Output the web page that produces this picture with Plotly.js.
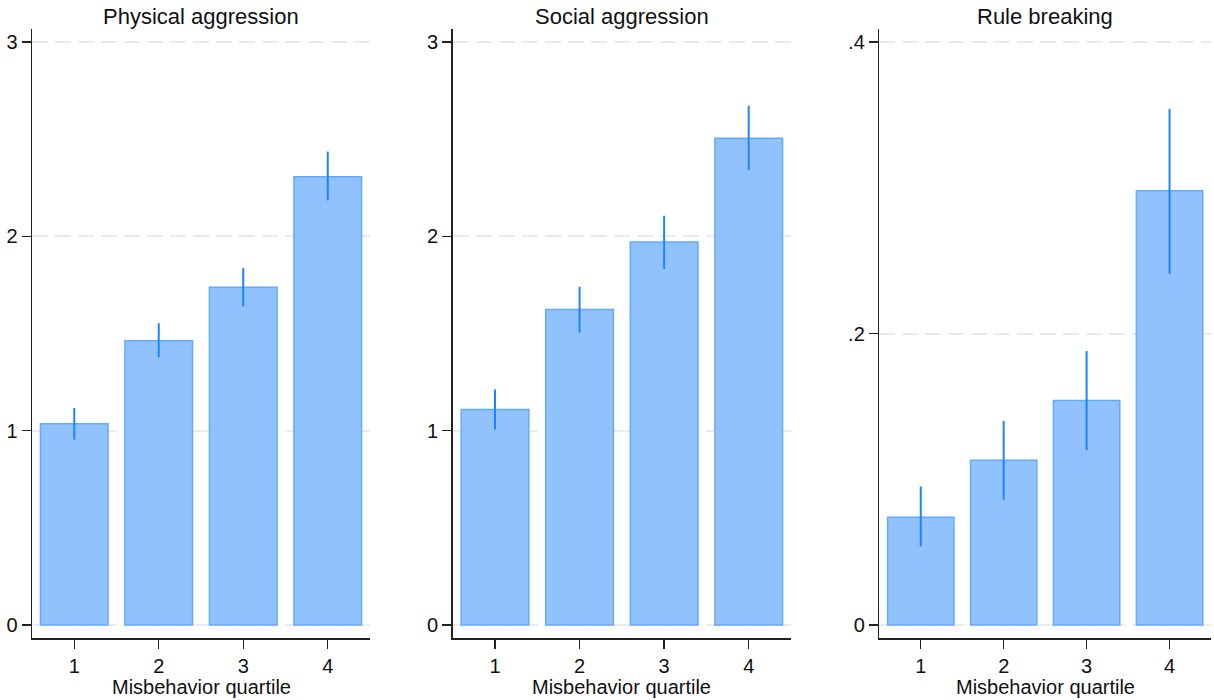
<!DOCTYPE html>
<html>
<head>
<meta charset="utf-8">
<script src="https://cdn.plot.ly/plotly-3.0.1.min.js"></script>
<style>html,body{margin:0;padding:0;background:#fff;}#chart{width:1214px;height:700px;}</style>
</head>
<body>
<div id="chart"></div>
<script>
// Data
const quartiles = [1, 2, 3, 4];
const panelTitles = ["Physical aggression", "Social aggression", "Rule breaking"];

const physMean  = [1.036, 1.463, 1.738, 2.307];
const physLower = [0.954, 1.378, 1.640, 2.185];
const physUpper = [1.117, 1.553, 1.837, 2.436];

const socMean   = [1.109, 1.623, 1.971, 2.505];
const socLower  = [1.006, 1.505, 1.832, 2.341];
const socUpper  = [1.212, 1.741, 2.106, 2.672];

const ruleMean  = [0.074, 0.113, 0.154, 0.298];
const ruleLower = [0.054, 0.086, 0.120, 0.241];
const ruleUpper = [0.095, 0.140, 0.188, 0.354];

const yTickVals12 = [0, 1, 2, 3];
const yTickText12 = ["0", "1", "2", "3"];
const yTickVals3 = [0, 0.2, 0.4];
const yTickText3 = ["0", ".2", ".4"];
const xTitle = "Misbehavior quartile";

// Styling
const FONT = "Liberation Sans, Arial, Helvetica, sans-serif";
const fillCol = "rgb(145,194,253)";
const lineCol = "rgb(100,170,252)";
const errCol = "#1a85ff";

function barTrace(mean, lower, upper, xa, ya) {
  return {
    type: "bar",
    x: quartiles,
    y: mean,
    xaxis: xa,
    yaxis: ya,
    width: 0.8,
    marker: { color: fillCol, line: { color: lineCol, width: 1.5 } },
    error_y: {
      type: "data",
      symmetric: false,
      array: upper.map((u, i) => u - mean[i]),
      arrayminus: mean.map((m, i) => m - lower[i]),
      color: errCol,
      thickness: 2,
      width: 0
    },
    hoverinfo: "skip",
    showlegend: false
  };
}

const W = 1214, H = 700;
const xDomPx = [[32, 370], [452.7, 791], [879.3, 1211]];
const yDom = [(H - 638) / H, (H - 29) / H];

function xaxis(i) {
  return {
    domain: [xDomPx[i][0] / W, xDomPx[i][1] / W],
    anchor: i === 0 ? "y" : "y" + (i + 1),
    range: [0.5, 4.5],
    tickvals: quartiles,
    ticktext: quartiles.map(String),
    ticks: "outside",
    ticklen: 9,
    tickwidth: 1.3,
    tickcolor: "#222",
    showline: true,
    linecolor: "#222",
    linewidth: 1.5,
    showgrid: false,
    zeroline: false,
    tickfont: { family: FONT, size: 20, color: "#111" },
    fixedrange: true
  };
}

function yaxis(i, range, vals, text) {
  return {
    domain: yDom,
    anchor: i === 0 ? "x" : "x" + (i + 1),
    range: range,
    tickvals: vals,
    ticktext: text,
    ticks: "outside",
    ticklen: 9,
    tickwidth: 1.3,
    tickcolor: "#222",
    showline: true,
    linecolor: "#222",
    linewidth: 1.5,
    showgrid: true,
    gridcolor: "#ebebeb",
    gridwidth: 2,
    griddash: "16px,7px",
    zeroline: false,
    tickfont: { family: FONT, size: 20, color: "#111" },
    fixedrange: true
  };
}

const data = [
  barTrace(physMean, physLower, physUpper, "x", "y"),
  barTrace(socMean, socLower, socUpper, "x2", "y2"),
  barTrace(ruleMean, ruleLower, ruleUpper, "x3", "y3")
];

const r12 = [-13 / 194.33, 3 + 13 / 194.33];
const r3 = [-13 / 1457.5, 0.4 + 13 / 1457.5];

const annotations = [];
for (let i = 0; i < 3; i++) {
  const cx = (xDomPx[i][0] + xDomPx[i][1]) / 2 / W;
  annotations.push({
    text: panelTitles[i], xref: "paper", yref: "paper",
    x: cx, y: (H - 16) / H, xanchor: "center", yanchor: "middle",
    showarrow: false, font: { family: FONT, size: 22, color: "#111" }
  });
  annotations.push({
    text: xTitle, xref: "paper", yref: "paper",
    x: cx, y: (H - 687) / H, xanchor: "center", yanchor: "middle",
    showarrow: false, font: { family: FONT, size: 20, color: "#111" }
  });
}

const layout = {
  width: W, height: H,
  margin: { l: 0, r: 0, t: 0, b: 0 },
  paper_bgcolor: "#fff",
  plot_bgcolor: "#fff",
  showlegend: false,
  xaxis: xaxis(0),
  xaxis2: xaxis(1),
  xaxis3: xaxis(2),
  yaxis: yaxis(0, r12, yTickVals12, yTickText12),
  yaxis2: yaxis(1, r12, yTickVals12, yTickText12),
  yaxis3: yaxis(2, r3, yTickVals3, yTickText3),
  annotations: annotations
};

Plotly.newPlot("chart", data, layout, { displayModeBar: false, staticPlot: true });
</script>
</body>
</html>
